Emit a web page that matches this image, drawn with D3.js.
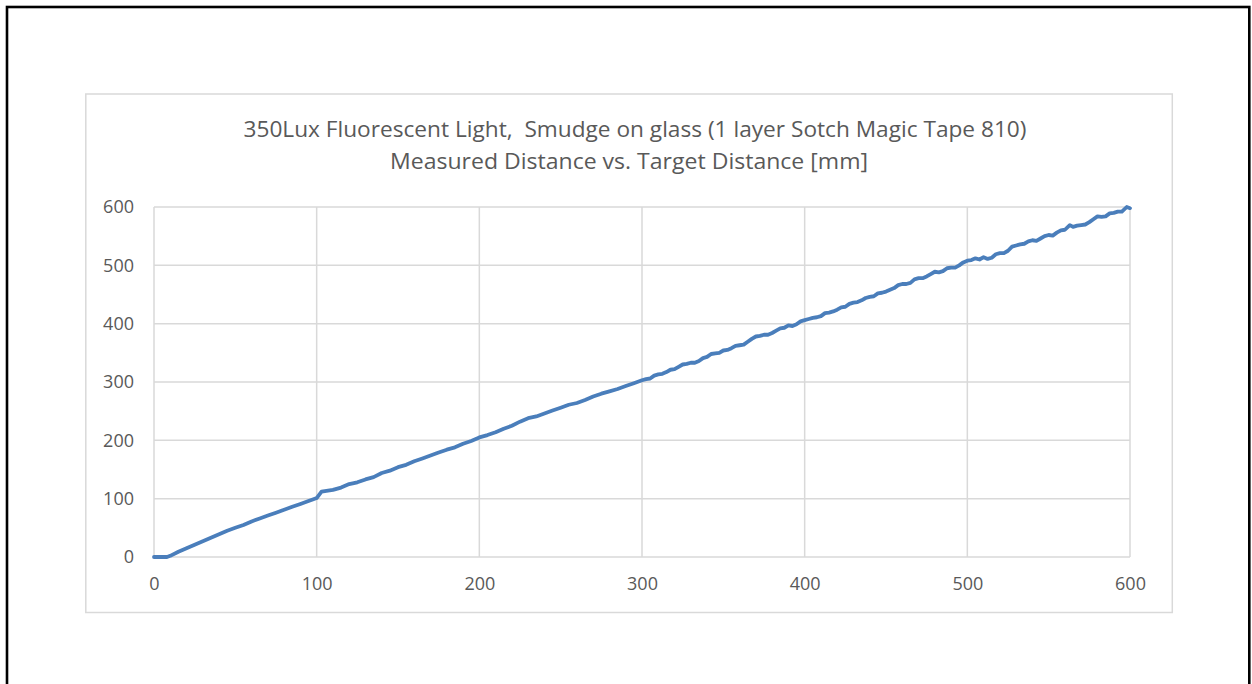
<!DOCTYPE html>
<html><head><meta charset="utf-8">
<script src="https://cdn.jsdelivr.net/npm/d3@7"></script>
<style>
html,body{margin:0;padding:0;background:#fff;}
svg{display:block;}
text{font-family:"Open Sans",sans-serif;fill:#595959;}
</style></head>
<body>
<svg id="c" width="1252" height="684"></svg>
<script>
const titleLines = ["350Lux Fluorescent Light,  Smudge on glass (1 layer Sotch Magic Tape 810)",
                    "Measured Distance vs. Target Distance [mm]"];
const xTicks = [0,100,200,300,400,500,600];
const yTicks = [0,100,200,300,400,500,600];
const targetDistance = [0,2,5,8,10,15,20,25,30,35,40,45,50,55,60,65,70,75,80,85,90,95,98,100,103,105,110,115,120,125,130,135,140,145,150,155,160,165,170,175,180,185,190,195,200,205,210,215,220,225,230,235,240,245,250,255,260,265,270,275,280,285,290,295,
  300,302.5,305,307.5,310,312.5,315,317.5,320,322.5,325,327.5,330,332.5,335,337.5,340,342.5,345,347.5,350,352.5,355,357.5,360,362.5,365,367.5,370,372.5,375,377.5,380,382.5,385,387.5,390,392.5,395,397.5,
  400,402.5,405,407.5,410,412.5,415,417.5,420,422.5,425,427.5,430,432.5,435,437.5,440,442.5,445,447.5,450,452.5,455,457.5,460,462.5,465,467.5,470,472.5,475,477.5,480,482.5,485,487.5,490,492.5,495,497.5,
  500,502.5,505,507.5,510,512.5,515,517.5,520,522.5,525,527.5,530,532.5,535,537.5,540,542.5,545,547.5,550,552.5,555,557.5,560,563,565,567.5,570,572.5,575,577.5,580,582.5,585,587.5,590,592.5,595,598,600];
const measuredDistance = [0,0,0,0,2,9,15,21,27,33,39,45,50,55,61,66,71,76,81,86,91,96,99,101,112,113,115,119,125,128,133,137,144,148,154,158,164,169,174,179,184,188,194,199,205,209,214,220,225,232,238,241,246,251,256,261,264,269,275,280,284,288,293,298,
  303,305,306,311,313,314,317,321,322,326,330,331,333,333,336,341,343,348,349,350,354,355,358,362,363,364,369,374,378,379,381,381,384,388,392,393,397,396,399,404,
  406,408,410,411,413,418,419,421,424,428,429,434,436,437,440,444,446,447,452,453,455,458,461,466,468,468,470,476,478,478,481,485,489,488,490,495,496,496,500,505,
  508,509,512,510,514,511,513,519,521,521,525,532,534,536,537,541,543,542,546,550,552,551,556,560,561,569,566,568,569,570,574,579,584,583,584,589,590,592,592,600,598];

const svg = d3.select("#c");
// outer frame
svg.append("rect").attr("x",7).attr("y",7).attr("width",1242.3).attr("height",720)
  .attr("fill","none").attr("stroke","#000").attr("stroke-width",2.6);
// chart box
svg.append("rect").attr("x",85.8).attr("y",94).attr("width",1086.5).attr("height",518.5)
  .attr("fill","#fff").attr("stroke","#d9d9d9").attr("stroke-width",1.5);

const x = d3.scaleLinear().domain([0,600]).range([154,1130]);
const y = d3.scaleLinear().domain([0,600]).range([557,207]);

// gridlines
svg.append("g").selectAll("line").data(yTicks).join("line")
  .attr("x1",x(0)).attr("x2",x(600)).attr("y1",d=>y(d)).attr("y2",d=>y(d))
  .attr("stroke","#d9d9d9").attr("stroke-width",1.5);
svg.append("g").selectAll("line").data(xTicks).join("line")
  .attr("y1",y(0)).attr("y2",y(600)).attr("x1",d=>x(d)).attr("x2",d=>x(d))
  .attr("stroke","#d9d9d9").attr("stroke-width",1.5);

// axes labels via d3 axes
const yAxis = svg.append("g").attr("transform",`translate(${x(0)},0)`)
  .call(d3.axisLeft(y).tickValues(yTicks).tickSize(0).tickPadding(20).tickFormat(d3.format("d")));
yAxis.select(".domain").remove();
yAxis.selectAll("text").style("font-size","18px").attr("fill","#595959").style("font-family","'Open Sans',sans-serif");
const xAxis = svg.append("g").attr("transform",`translate(0,${y(0)})`)
  .call(d3.axisBottom(x).tickValues(xTicks).tickSize(0).tickPadding(20).tickFormat(d3.format("d")));
xAxis.select(".domain").remove();
xAxis.selectAll("text").style("font-size","18px").attr("fill","#595959").style("font-family","'Open Sans',sans-serif");

// line
const data = targetDistance.map((t,i)=>[t,measuredDistance[i]]);
svg.append("path").datum(data)
  .attr("d",d3.line().x(d=>x(d[0])).y(d=>y(d[1])))
  .attr("fill","none").attr("stroke","#4a7ebb").attr("stroke-width",3.8)
  .attr("stroke-linejoin","round").attr("stroke-linecap","round");

// title
const titleWidths = [783, 478];
const titleCenters = [635, 629];
svg.append("g").selectAll("text").data(titleLines).join("text")
  .attr("x",(d,i)=>titleCenters[i]).attr("y",(d,i)=>137+i*32).attr("text-anchor","middle")
  .attr("textLength",(d,i)=>titleWidths[i]).attr("lengthAdjust","spacingAndGlyphs")
  .style("font-size","22px").style("white-space","pre").text(d=>d);
</script>
</body></html>
